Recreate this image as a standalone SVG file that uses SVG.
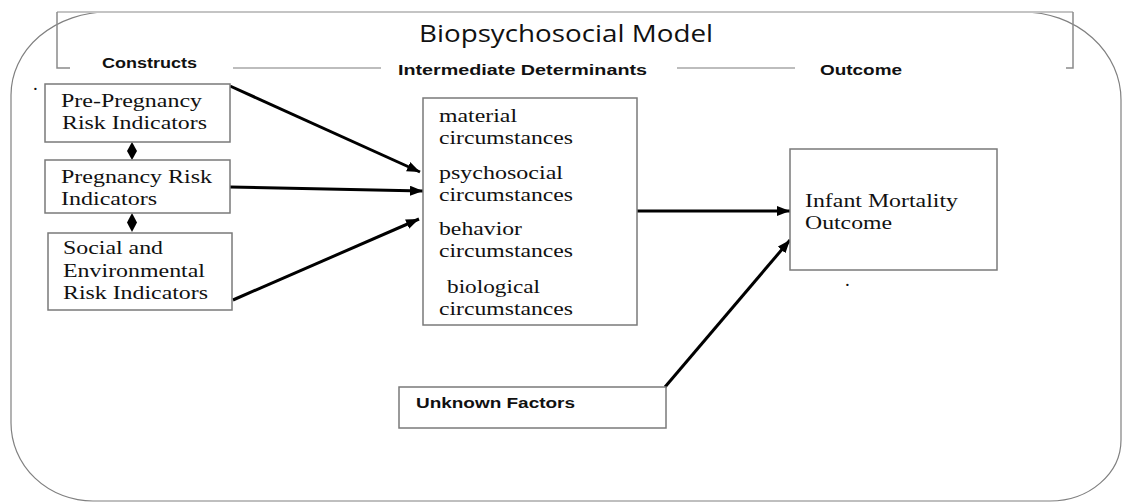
<svg xmlns="http://www.w3.org/2000/svg" width="1122" height="502" viewBox="0 0 1122 502">
<style>
.frame{fill:none;stroke:#808080;stroke-width:1.2}
.box{fill:#fff;stroke:#7a7a7a;stroke-width:1.5}
.ser{font-family:"Liberation Serif","Times New Roman",serif;font-size:19px;fill:#111}
.hdr{font-family:"Liberation Sans",Arial,sans-serif;font-size:14px;font-weight:bold;fill:#111}
.title{font-family:"Open Sans","Liberation Sans",Arial,sans-serif;font-size:23px;fill:#111}
.conn{stroke:#000;stroke-width:3;fill:none;marker-end:url(#arr)}
.grayline{stroke:#bdbdbd;stroke-width:2}
</style>
<defs>
<marker id="arr" markerUnits="userSpaceOnUse" markerWidth="14" markerHeight="12" refX="13" refY="5" orient="auto">
<path d="M0,0 L13,5 L0,10 Z" fill="#000"/>
</marker>
</defs>
<g id="frame">
<path class="frame" d="M108 12 H1023 A98 88 0 0 1 1121 100 V440 A71 61 0 0 1 1050 501 H93 A82 78 0 0 1 11 423 V95 A97 83 0 0 1 108 12 Z"/>
<line x1="57" y1="12" x2="1073" y2="12" stroke="#c4c4c4" stroke-width="2"/>
<path d="M70 68 H57 V12" fill="none" stroke="#8a8a8a" stroke-width="1.5"/>
<path d="M1073 12 V68 H1066" fill="none" stroke="#8a8a8a" stroke-width="1.5"/>
<line class="grayline" x1="233" y1="68" x2="381" y2="68"/>
<line class="grayline" x1="677" y1="68" x2="795" y2="68"/>
<text class="title" x="419" y="42" textLength="294" lengthAdjust="spacingAndGlyphs">Biopsychosocial Model</text>
<text class="hdr" x="102" y="68" textLength="95" lengthAdjust="spacingAndGlyphs">Constructs</text>
<text class="hdr" x="398" y="75" textLength="249" lengthAdjust="spacingAndGlyphs">Intermediate Determinants</text>
<text class="hdr" x="820" y="75" textLength="82" lengthAdjust="spacingAndGlyphs">Outcome</text>
<text class="ser" x="33" y="90" font-size="12">.</text>
<text class="ser" x="845" y="286" font-size="12">.</text>
</g>
<g id="connectors">
<path d="M132 142 L137 151 L132 160 L127 151 Z" fill="#000"/>
<path d="M132 213 L137 222.5 L132 232 L127 222.5 Z" fill="#000"/>
<line class="conn" x1="230" y1="86" x2="420" y2="172"/>
<line class="conn" x1="230" y1="187" x2="423" y2="191"/>
<line class="conn" x1="233" y1="300" x2="419" y2="219"/>
<line class="conn" x1="637" y1="211" x2="790" y2="211"/>
<line class="conn" x1="665" y1="387" x2="790" y2="240"/>
</g>
<g id="pre-pregnancy">
<rect class="box" x="45" y="84" width="185" height="58"/>
<text class="ser" x="61" y="107" textLength="141" lengthAdjust="spacingAndGlyphs">Pre-Pregnancy</text>
<text class="ser" x="62" y="129" textLength="145" lengthAdjust="spacingAndGlyphs">Risk Indicators</text>
</g>
<g id="pregnancy">
<rect class="box" x="45" y="160" width="185" height="53"/>
<text class="ser" x="61" y="183" textLength="151" lengthAdjust="spacingAndGlyphs">Pregnancy Risk</text>
<text class="ser" x="61" y="205" textLength="96" lengthAdjust="spacingAndGlyphs">Indicators</text>
</g>
<g id="social">
<rect class="box" x="48" y="233" width="184" height="77"/>
<text class="ser" x="63" y="254" textLength="100" lengthAdjust="spacingAndGlyphs">Social and</text>
<text class="ser" x="63" y="277" textLength="142" lengthAdjust="spacingAndGlyphs">Environmental</text>
<text class="ser" x="63" y="299" textLength="145" lengthAdjust="spacingAndGlyphs">Risk Indicators</text>
</g>
<g id="intermediate">
<rect class="box" x="423" y="98" width="214" height="227"/>
<text class="ser" x="439" y="122" textLength="78" lengthAdjust="spacingAndGlyphs">material</text>
<text class="ser" x="439" y="144" textLength="134" lengthAdjust="spacingAndGlyphs">circumstances</text>
<text class="ser" x="439" y="179" textLength="124" lengthAdjust="spacingAndGlyphs">psychosocial</text>
<text class="ser" x="439" y="201" textLength="134" lengthAdjust="spacingAndGlyphs">circumstances</text>
<text class="ser" x="439" y="235" textLength="83" lengthAdjust="spacingAndGlyphs">behavior</text>
<text class="ser" x="439" y="257" textLength="134" lengthAdjust="spacingAndGlyphs">circumstances</text>
<text class="ser" x="447" y="293" textLength="93" lengthAdjust="spacingAndGlyphs">biological</text>
<text class="ser" x="439" y="315" textLength="134" lengthAdjust="spacingAndGlyphs">circumstances</text>
</g>
<g id="outcome">
<rect class="box" x="790" y="149" width="207" height="121"/>
<text class="ser" x="805" y="207" textLength="153" lengthAdjust="spacingAndGlyphs">Infant Mortality</text>
<text class="ser" x="805" y="229" textLength="87" lengthAdjust="spacingAndGlyphs">Outcome</text>
</g>
<g id="unknown">
<rect class="box" x="399" y="387" width="267" height="41"/>
<text class="hdr" x="416" y="408" font-size="15" textLength="159" lengthAdjust="spacingAndGlyphs">Unknown Factors</text>
</g>
</svg>
